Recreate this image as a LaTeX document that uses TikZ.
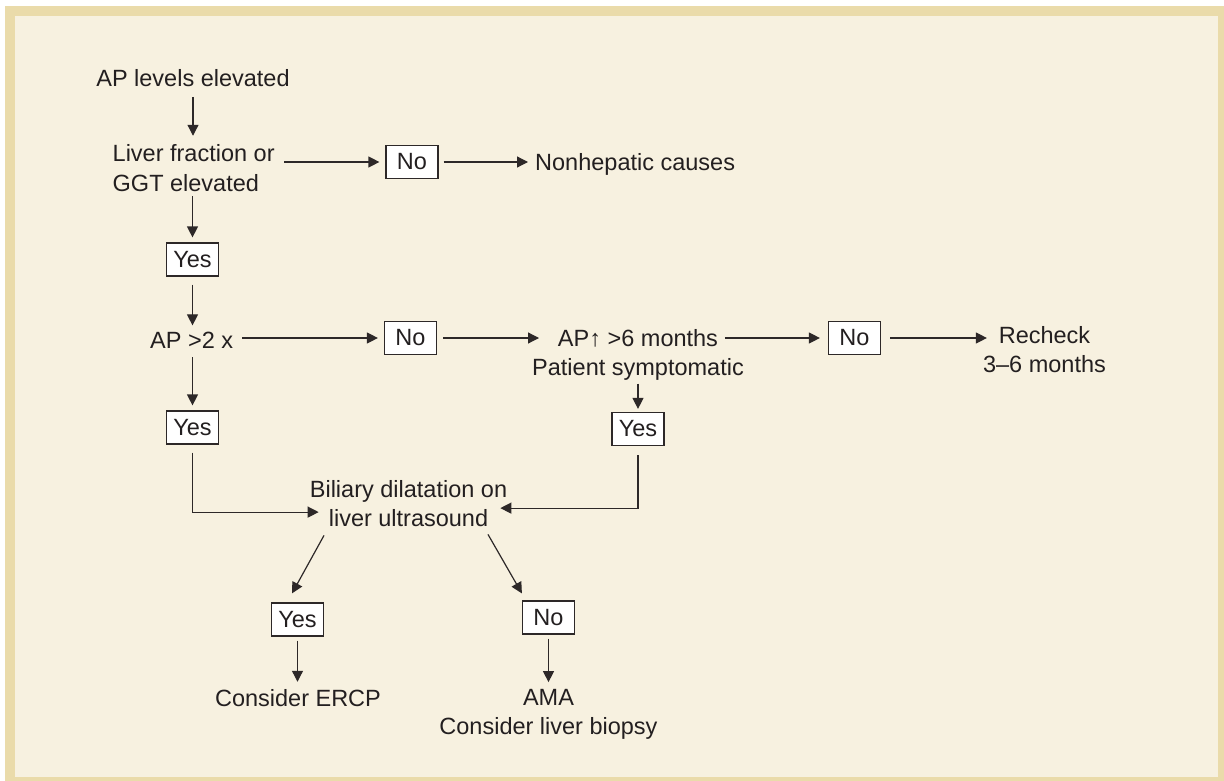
\documentclass[tikz,border=0pt]{standalone}
\usepackage{fontspec}
\setmainfont{Liberation Sans}
\usetikzlibrary{arrows.meta}
\definecolor{tan}{RGB}{234,219,170}
\definecolor{cream}{RGB}{247,241,224}
\definecolor{ink}{RGB}{35,31,32}
\definecolor{linec}{RGB}{45,40,40}
\tikzset{
  txt/.style={inner sep=0pt, text=ink, font=\fontsize{23.5pt}{29pt}\selectfont},
  yn/.style={draw=linec, fill=white, line width=1.2pt, minimum width=52pt, minimum height=33pt,
    inner sep=0pt, text=ink, font=\fontsize{23.5pt}{29pt}\selectfont},
  arr/.style={draw=linec, line width=1.2pt, -{Triangle[length=11pt,width=11pt]}},
}
\begin{document}
\begin{tikzpicture}[x=1pt,y=-1pt]
\useasboundingbox (0,0) rectangle (1224,781);
\fill[white] (0,0) rectangle (1224,781);
\fill[tan] (5,6) rectangle (1224,781);
\fill[cream] (15,16) rectangle (1218,777);

% text nodes (multi-line nodes: base = baseline of last line)
\node[txt, anchor=base] (ap) at (193,87) {AP levels elevated};
\node[txt, anchor=base west, align=left] (liver) at (112.5,191) {Liver fraction or\\GGT elevated};
\node[txt, anchor=base west] (nonhep) at (535,170.5) {Nonhepatic causes};
\node[txt, anchor=base west] (apx2) at (150,348) {AP >2 x};
\node[txt, anchor=base, align=center] (apr) at (638,375.5) {AP↑ >6 months\\Patient symptomatic};
\node[txt, anchor=base, align=center] (recheck) at (1044.5,372.5) {Recheck\\3–6 months};
\node[txt, anchor=base, align=center] (biliary) at (408.5,526) {Biliary dilatation on\\liver ultrasound};
\node[txt, anchor=base] (ercp) at (298,706) {Consider ERCP};
\node[txt, anchor=base, align=center] (ama) at (548.5,734.5) {AMA\\Consider liver biopsy};

% yes / no boxes
\node[yn] (no1) at (412,162) {No};
\node[yn] (yes1) at (192.5,259.5) {Yes};
\node[yn] (no2) at (410.5,338) {No};
\node[yn] (no3) at (854.5,338) {No};
\node[yn] (yes2) at (192.5,427.5) {Yes};
\node[yn] (yes3) at (638,429) {Yes};
\node[yn] (yes4) at (297.5,619.5) {Yes};
\node[yn] (no4) at (548.5,617.5) {No};

% connectors
\draw[arr, shorten >=9pt] ([yshift=-10pt]ap.base) -- (ap.base |- liver.north);
\draw[arr, shorten <=9.5pt, shorten >=6pt] (liver.east |- no1.west) -- (no1.west);
\draw[arr, shorten <=5pt, shorten >=7pt] (no1.east) -- (nonhep.west |- no1.east);
\draw[arr, shorten <=5pt, shorten >=5pt] (yes1.north |- liver.south) -- (yes1.north);
\draw[arr, shorten <=8pt, shorten >=6pt] (yes1.south) -- (yes1.south |- apx2.north);
\draw[arr, shorten <=9pt, shorten >=6pt] (apx2.east |- no2.west) -- (no2.west);
\draw[arr, shorten <=6pt, shorten >=-7pt] (no2.east) -- (apr.west |- no2.east);
\draw[arr, shorten <=-19pt, shorten >=8pt] (apr.east |- no3.west) -- (no3.west);
\draw[arr, shorten <=9pt, shorten >=-4pt] (no3.east) -- (recheck.west |- no3.east);
\draw[arr, shorten <=9pt, shorten >=5pt] (yes2.north |- apx2.south) -- (yes2.north);
\draw[arr, shorten <=3pt, shorten >=3pt] (yes3.north |- apr.south) -- (yes3.north);
\draw[arr, shorten <=8pt] (yes2.south) |- ([xshift=9pt,yshift=-9pt]biliary.west);
\draw[arr, shorten <=9pt] (yes3.south) |- ([xshift=-7pt,yshift=-5pt]biliary.east);
\draw[arr] ([xshift=-84.5pt,yshift=-9pt]biliary.south) -- ([xshift=-5.5pt,yshift=9pt]yes4.north);
\draw[arr] ([xshift=79.5pt,yshift=-8pt]biliary.south) -- ([yshift=7pt]no4.north west);
\draw[arr, shorten <=4pt, shorten >=7pt] (yes4.south) -- (yes4.south |- ercp.north);
\draw[arr, shorten <=4pt, shorten >=7pt] (no4.south) -- (no4.south |- ama.north);
\end{tikzpicture}
\end{document}
